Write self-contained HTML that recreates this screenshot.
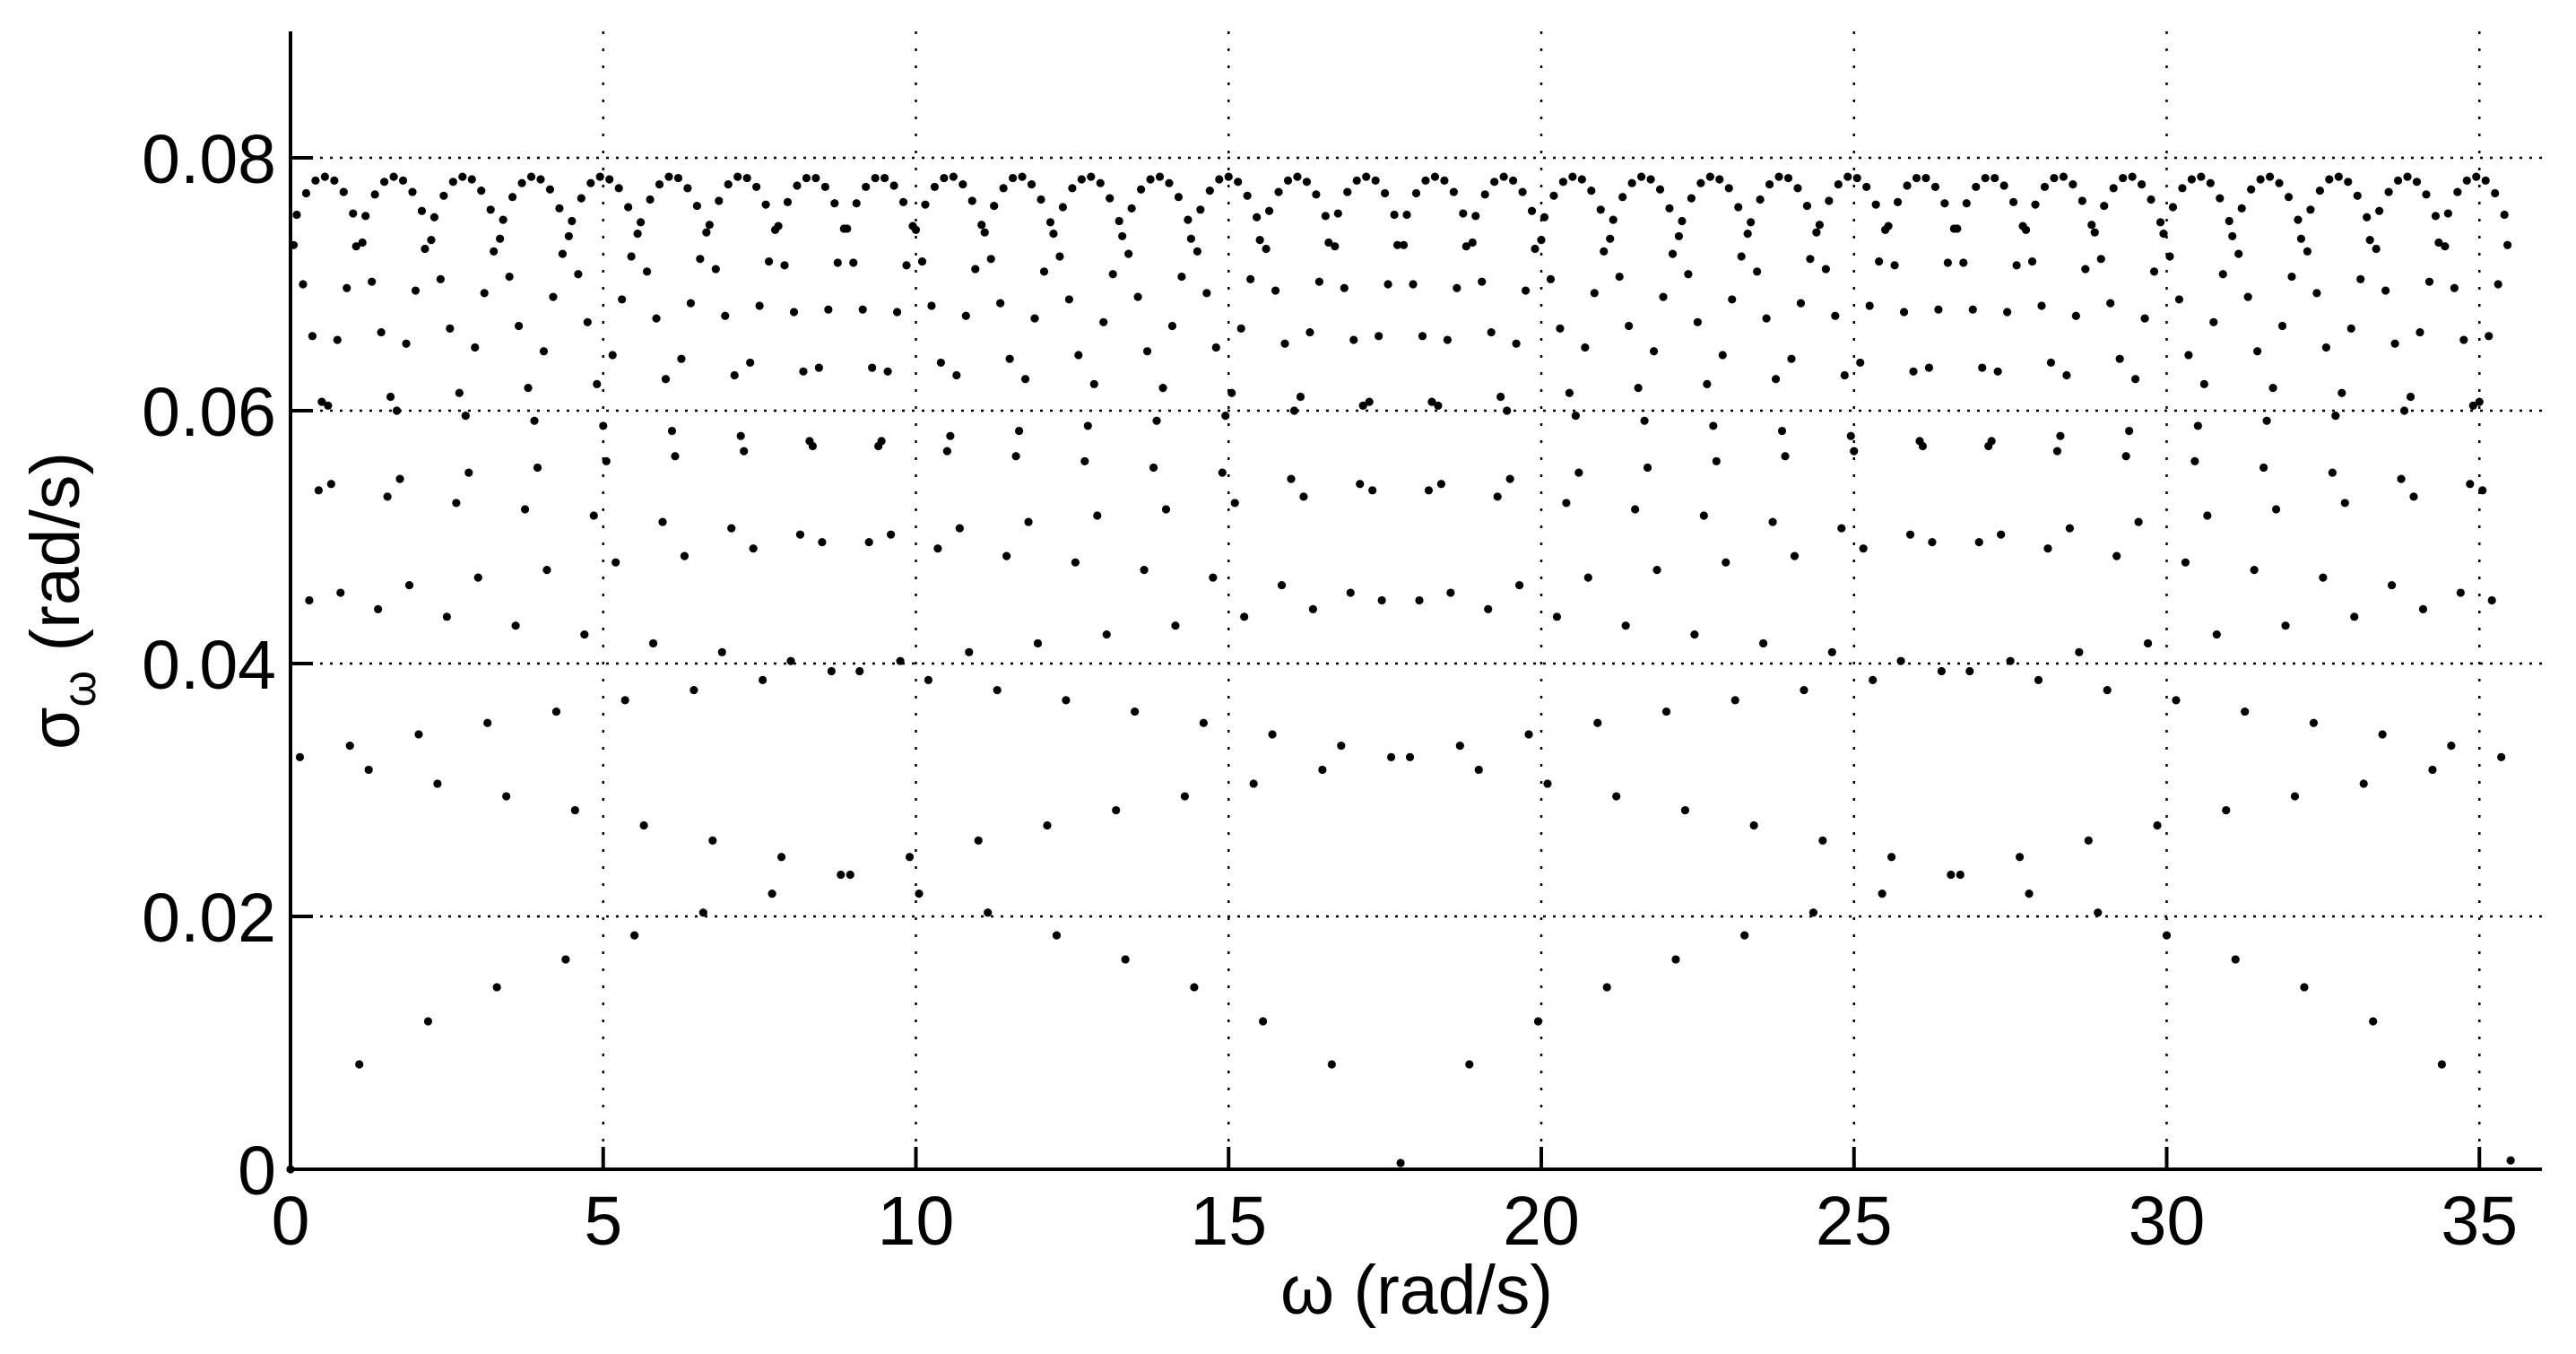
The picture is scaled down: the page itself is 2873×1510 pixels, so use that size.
<!DOCTYPE html>
<html>
<head>
<meta charset="utf-8">
<style>
html,body{margin:0;padding:0;background:#fff;}
svg{display:block;}
text{font-family:"Liberation Sans",Arial,sans-serif;fill:#000;}
</style>
</head>
<body>
<svg id="chart" width="2873" height="1510" viewBox="0 0 2873 1510" xmlns="http://www.w3.org/2000/svg">
  <rect x="0" y="0" width="2873" height="1510" fill="#fff"/>
  <g id="grid"></g>
  <g id="points"></g>
  <g id="axes"></g>
  <text x="1580" y="1465" font-size="77" text-anchor="middle">ω (rad/s)</text>
  <text transform="translate(88,670) rotate(-90)" font-size="77" text-anchor="middle">σ<tspan font-size="52" dy="18">ω</tspan><tspan dy="-18"> (rad/s)</tspan></text>
</svg>
<script>
const xTicks = [0, 5, 10, 15, 20, 25, 30, 35];
const xTickLabels = ["0", "5", "10", "15", "20", "25", "30", "35"];
const yTicks = [0, 0.02, 0.04, 0.06, 0.08];
const yTickLabels = ["0", "0.02", "0.04", "0.06", "0.08"];
const xDomain = [0, 36];
const yDomain = [0, 0.09];
const omegaStep = 0.05;
const sigma = [0,
0.0731,0.0755,0.0326,0.0700,0.0772,0.0450,0.0659,0.0782,0.0537,0.0607,0.0785,0.0604,0.0542,0.0782,0.0656,0.0456,0.0773,0.0697,0.0335,0.0756,0.0730,0.0083,0.0733,0.0754,0.0316,0.0702,0.0771,0.0443,0.0662,0.0781,0.0532,0.0611,0.0785,0.0600,0.0546,0.0782,0.0653,0.0462,0.0773,0.0695,0.0344,0.0758,0.0728,0.0117,0.0735,0.0753,0.0305,0.0704,0.0770,0.0437,0.0665,0.0781,0.0527,0.0614,0.0785,0.0596,0.0551,0.0783,0.0650,0.0468,0.0774,0.0693,0.0353,0.0759,0.0726,0.0144,0.0736,0.0751,0.0295,0.0706,0.0769,0.0430,0.0667,0.0780,0.0522,0.0618,0.0785,0.0592,0.0555,0.0783,0.0647,0.0474,0.0775,0.0690,0.0362,0.0760,0.0724,0.0166,0.0738,0.0750,0.0284,0.0708,0.0768,0.0423,0.0670,0.0780,0.0517,0.0621,0.0785,0.0588,0.0560,0.0783,0.0644,0.0480,0.0776,0.0688,0.0371,0.0761,0.0722,0.0185,0.0740,0.0749,0.0272,0.0710,0.0767,0.0416,0.0673,0.0779,0.0512,0.0625,0.0785,0.0584,0.0564,0.0784,0.0641,0.0485,0.0776,0.0685,0.0379,0.0762,0.0720,0.0203,0.0741,0.0747,0.0260,0.0712,0.0766,0.0409,0.0675,0.0779,0.0507,0.0628,0.0785,0.0580,0.0568,0.0784,0.0638,0.0491,0.0777,0.0683,0.0387,0.0763,0.0718,0.0218,0.0743,0.0746,0.0247,0.0715,0.0765,0.0402,0.0678,0.0778,0.0502,0.0631,0.0784,0.0576,0.0572,0.0784,0.0634,0.0496,0.0777,0.0680,0.0394,0.0764,0.0717,0.0233,0.0744,
0.0744,0.0233,0.0717,0.0764,0.0394,0.0680,0.0777,0.0496,0.0634,0.0784,0.0572,0.0576,0.0784,0.0631,0.0502,0.0778,0.0678,0.0402,0.0765,0.0715,0.0247,0.0746,0.0743,0.0218,0.0718,0.0763,0.0387,0.0683,0.0777,0.0491,0.0638,0.0784,0.0568,0.0580,0.0785,0.0628,0.0507,0.0779,0.0675,0.0409,0.0766,0.0712,0.0260,0.0747,0.0741,0.0203,0.0720,0.0762,0.0379,0.0685,0.0776,0.0485,0.0641,0.0784,0.0564,0.0584,0.0785,0.0625,0.0512,0.0779,0.0673,0.0416,0.0767,0.0710,0.0272,0.0749,0.0740,0.0185,0.0722,0.0761,0.0371,0.0688,0.0776,0.0480,0.0644,0.0783,0.0560,0.0588,0.0785,0.0621,0.0517,0.0780,0.0670,0.0423,0.0768,0.0708,0.0284,0.0750,0.0738,0.0166,0.0724,0.0760,0.0362,0.0690,0.0775,0.0474,0.0647,0.0783,0.0555,0.0592,0.0785,0.0618,0.0522,0.0780,0.0667,0.0430,0.0769,0.0706,0.0295,0.0751,0.0736,0.0144,0.0726,0.0759,0.0353,0.0693,0.0774,0.0468,0.0650,0.0783,0.0551,0.0596,0.0785,0.0614,0.0527,0.0781,0.0665,0.0437,0.0770,0.0704,0.0305,0.0753,0.0735,0.0117,0.0728,0.0758,0.0344,0.0695,0.0773,0.0462,0.0653,0.0782,0.0546,0.0600,0.0785,0.0611,0.0532,0.0781,0.0662,0.0443,0.0771,0.0702,0.0316,0.0754,0.0733,0.0083,0.0730,0.0756,0.0335,0.0697,0.0773,0.0456,0.0656,0.0782,0.0542,0.0604,0.0785,0.0607,0.0537,0.0782,0.0659,0.0450,0.0772,0.0700,0.0326,0.0755,0.0731,
0.0005,
0.0731,0.0755,0.0326,0.0700,0.0772,0.0450,0.0659,0.0782,0.0537,0.0607,0.0785,0.0604,0.0542,0.0782,0.0656,0.0456,0.0773,0.0697,0.0335,0.0756,0.0730,0.0083,0.0733,0.0754,0.0316,0.0702,0.0771,0.0443,0.0662,0.0781,0.0532,0.0611,0.0785,0.0600,0.0546,0.0782,0.0653,0.0462,0.0773,0.0695,0.0344,0.0758,0.0728,0.0117,0.0735,0.0753,0.0305,0.0704,0.0770,0.0437,0.0665,0.0781,0.0527,0.0614,0.0785,0.0596,0.0551,0.0783,0.0650,0.0468,0.0774,0.0693,0.0353,0.0759,0.0726,0.0144,0.0736,0.0751,0.0295,0.0706,0.0769,0.0430,0.0667,0.0780,0.0522,0.0618,0.0785,0.0592,0.0555,0.0783,0.0647,0.0474,0.0775,0.0690,0.0362,0.0760,0.0724,0.0166,0.0738,0.0750,0.0284,0.0708,0.0768,0.0423,0.0670,0.0780,0.0517,0.0621,0.0785,0.0588,0.0560,0.0783,0.0644,0.0480,0.0776,0.0688,0.0371,0.0761,0.0722,0.0185,0.0740,0.0749,0.0272,0.0710,0.0767,0.0416,0.0673,0.0779,0.0512,0.0625,0.0785,0.0584,0.0564,0.0784,0.0641,0.0485,0.0776,0.0685,0.0379,0.0762,0.0720,0.0203,0.0741,0.0747,0.0260,0.0712,0.0766,0.0409,0.0675,0.0779,0.0507,0.0628,0.0785,0.0580,0.0568,0.0784,0.0638,0.0491,0.0777,0.0683,0.0387,0.0763,0.0718,0.0218,0.0743,0.0746,0.0247,0.0715,0.0765,0.0402,0.0678,0.0778,0.0502,0.0631,0.0784,0.0576,0.0572,0.0784,0.0634,0.0496,0.0777,0.0680,0.0394,0.0764,0.0717,0.0233,0.0744,
0.0744,0.0233,0.0717,0.0764,0.0394,0.0680,0.0777,0.0496,0.0634,0.0784,0.0572,0.0576,0.0784,0.0631,0.0502,0.0778,0.0678,0.0402,0.0765,0.0715,0.0247,0.0746,0.0743,0.0218,0.0718,0.0763,0.0387,0.0683,0.0777,0.0491,0.0638,0.0784,0.0568,0.0580,0.0785,0.0628,0.0507,0.0779,0.0675,0.0409,0.0766,0.0712,0.0260,0.0747,0.0741,0.0203,0.0720,0.0762,0.0379,0.0685,0.0776,0.0485,0.0641,0.0784,0.0564,0.0584,0.0785,0.0625,0.0512,0.0779,0.0673,0.0416,0.0767,0.0710,0.0272,0.0749,0.0740,0.0185,0.0722,0.0761,0.0371,0.0688,0.0776,0.0480,0.0644,0.0783,0.0560,0.0588,0.0785,0.0621,0.0517,0.0780,0.0670,0.0423,0.0768,0.0708,0.0284,0.0750,0.0738,0.0166,0.0724,0.0760,0.0362,0.0690,0.0775,0.0474,0.0647,0.0783,0.0555,0.0592,0.0785,0.0618,0.0522,0.0780,0.0667,0.0430,0.0769,0.0706,0.0295,0.0751,0.0736,0.0144,0.0726,0.0759,0.0353,0.0693,0.0774,0.0468,0.0650,0.0783,0.0551,0.0596,0.0785,0.0614,0.0527,0.0781,0.0665,0.0437,0.0770,0.0704,0.0305,0.0753,0.0735,0.0117,0.0728,0.0758,0.0344,0.0695,0.0773,0.0462,0.0653,0.0782,0.0546,0.0600,0.0785,0.0611,0.0532,0.0781,0.0662,0.0443,0.0771,0.0702,0.0316,0.0754,0.0733,0.0083,0.0730,0.0756,0.0335,0.0697,0.0773,0.0456,0.0656,0.0782,0.0542,0.0604,0.0785,0.0607,0.0537,0.0782,0.0659,0.0450,0.0772,0.0700,0.0326,0.0755,0.0731,
0.0007];

const NS = "http://www.w3.org/2000/svg";
const plotL = 324, plotR = 2835, plotT = 35, plotB = 1304;
function xScale(v){ return plotL + (v - xDomain[0]) / (xDomain[1] - xDomain[0]) * (plotR - plotL); }
function yScale(v){ return plotB - (v - yDomain[0]) / (yDomain[1] - yDomain[0]) * (plotB - plotT); }
function mk(tag, attrs){ const e = document.createElementNS(NS, tag); for (const k in attrs) e.setAttribute(k, attrs[k]); return e; }

const grid = document.getElementById('grid');
const axes = document.getElementById('axes');
const pts = document.getElementById('points');

xTicks.forEach((t, i) => {
  const x = xScale(t);
  if (t !== 0) {
    const g = mk('line', {x1:x, y1:plotT, x2:x, y2:plotB, stroke:'#000', 'stroke-width':2.5, 'stroke-dasharray':'3,16'});
    
    
    grid.appendChild(g);
  }
  const tk = mk('line', {x1:x, y1:plotB, x2:x, y2:plotB-25, stroke:'#000', 'stroke-width':4});
  
  
  axes.appendChild(tk);
  const lb = mk('text', {x:x, y:1388, 'font-size':77, 'text-anchor':'middle'});
  lb.textContent = xTickLabels[i];
  
  
  axes.appendChild(lb);
});

yTicks.forEach((t, i) => {
  const y = yScale(t);
  if (t !== 0) {
    const g = mk('line', {x1:plotL, y1:y, x2:plotR, y2:y, stroke:'#000', 'stroke-width':2.5, 'stroke-dasharray':'3,8'});
    
    
    grid.appendChild(g);
  }
  const tk = mk('line', {x1:plotL, y1:y, x2:plotL+25, y2:y, stroke:'#000', 'stroke-width':4});
  
  
  axes.appendChild(tk);
  const lb = mk('text', {x:308, y:y+28, 'font-size':77, 'text-anchor':'end'});
  lb.textContent = yTickLabels[i];
  
  
  axes.appendChild(lb);
});

const xAxis = mk('line', {x1:plotL-2, y1:plotB, x2:plotR, y2:plotB, stroke:'#000', 'stroke-width':4});


axes.appendChild(xAxis);
const yAxis = mk('line', {x1:plotL, y1:plotT, x2:plotL, y2:plotB+2, stroke:'#000', 'stroke-width':4});


axes.appendChild(yAxis);

sigma.forEach((v, i) => {
  const c = mk('circle', {cx:xScale(i * omegaStep), cy:yScale(v), r:4.6, fill:'#000'});
  
  
  pts.appendChild(c);
});
</script>
</body>
</html>
